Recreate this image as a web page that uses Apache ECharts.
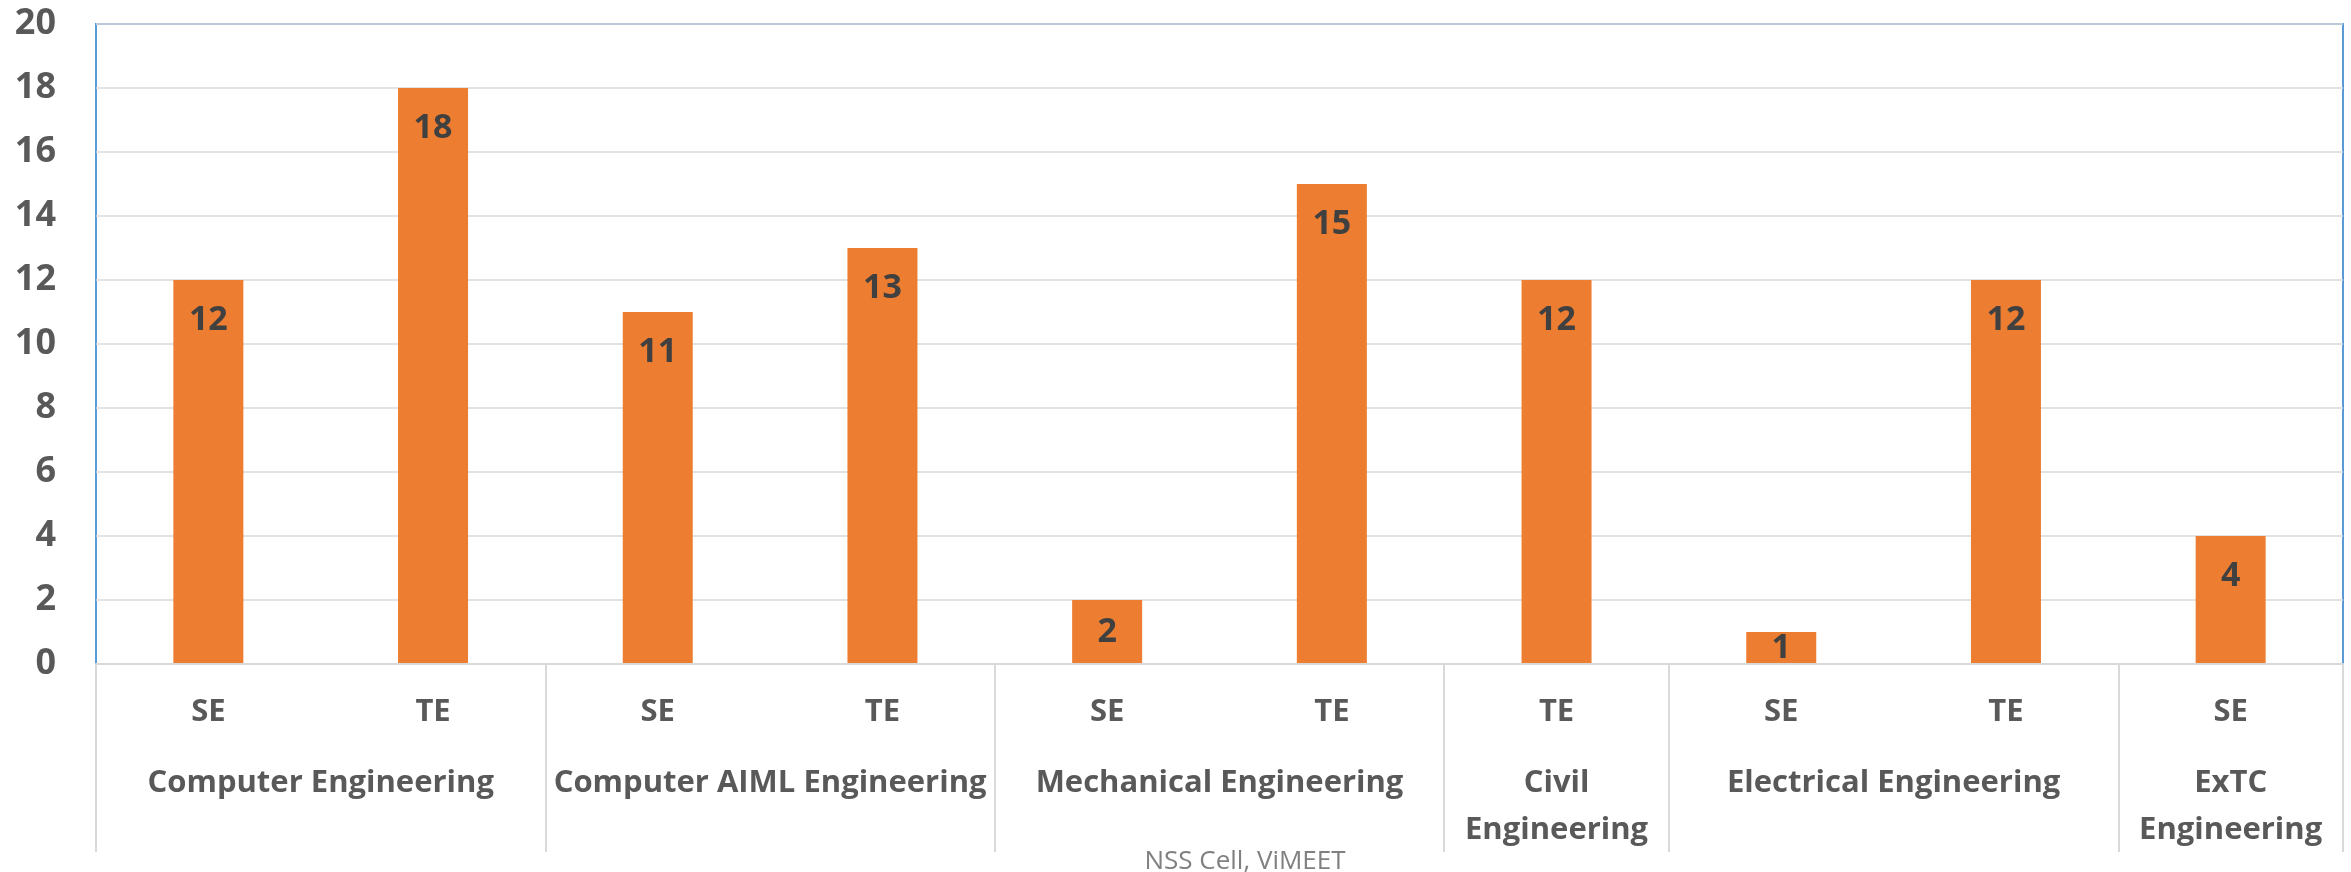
<!DOCTYPE html>
<html>
<head>
<meta charset="utf-8">
<script src="https://cdn.jsdelivr.net/npm/echarts@6/dist/echarts.min.js"></script>
<style>
  html, body { margin: 0; padding: 0; background: #fff; }
  #main { width: 2351px; height: 872px; }
</style>
</head>
<body>
<div id="main"></div>
<script>
// data
var years = ['SE', 'TE', 'SE', 'TE', 'SE', 'TE', 'TE', 'SE', 'TE', 'SE'];
var counts = [12, 18, 11, 13, 2, 15, 12, 1, 12, 4];
var departments = ['Computer Engineering', 'Computer AIML Engineering', 'Mechanical Engineering',
                   'Civil\nEngineering', 'Electrical Engineering', 'ExTC\nEngineering'];
var deptSizes = [2, 2, 2, 1, 2, 1];   // how many bars each department spans
var yTicks = [0, 2, 4, 6, 8, 10, 12, 14, 16, 18, 20];

// group boundaries and centres on a 0..10 value axis under the category axis
var bounds = [0], centres = [];
deptSizes.forEach(function (n, i) {
  var start = bounds[bounds.length - 1];
  centres.push(start + n / 2);
  bounds.push(start + n);
});

var font = '"Open Sans", "DejaVu Sans", sans-serif';

var barData = counts.map(function (v) {
  // small bars: keep the label inside the bar
  return v <= 2 ? { value: v, label: { position: 'inside' } } : v;
});

var myChart = echarts.init(document.getElementById('main'));
var option = {
  animation: false,
  title: {
    text: 'NSS Cell, ViMEET',
    left: 1240,
    top: 844,
    textAlign: 'center',
    textStyle: { fontFamily: font, fontSize: 26, fontWeight: 'normal', color: '#808080' }
  },
  grid: {
    left: 96, right: 8, top: 24, bottom: 208,
    show: true, borderColor: '#5B9BD5', borderWidth: 2
  },
  xAxis: [{
    type: 'category',
    data: years,
    axisLine: { show: true, lineStyle: { color: '#D9D9D9', width: 2 } },
    axisTick: { show: false },
    axisLabel: {
      fontFamily: font, fontSize: 31, fontWeight: 'bold', color: '#595959',
      margin: 30, lineHeight: 36
    },
    z: 5
  }, {
    type: 'value',
    min: 0,
    max: 10,
    position: 'bottom',
    axisLine: { show: false },
    splitLine: { show: false },
    axisTick: {
      show: true, customValues: bounds, length: 188,
      lineStyle: { color: '#D9D9D9', width: 2 }
    },
    axisLabel: {
      customValues: centres,
      fontFamily: font, fontSize: 31, fontWeight: 'bold', color: '#595959',
      margin: 96, lineHeight: 47, align: 'center',
      formatter: function (v) {
        var i = centres.indexOf(v);
        return i >= 0 ? departments[i] : '';
      }
    }
  }],
  yAxis: {
    type: 'value',
    min: yTicks[0],
    max: yTicks[yTicks.length - 1],
    interval: 2,
    axisLine: { show: false },
    axisTick: { show: false },
    splitLine: { lineStyle: { color: '#D9D9D9', width: 1.5 } },
    axisLabel: {
      fontFamily: font, fontSize: 36, fontWeight: 'bold', color: '#595959', margin: 40
    }
  },
  series: [{
    type: 'bar',
    data: barData,
    barWidth: 70,
    itemStyle: { color: '#ED7D31' },
    label: {
      show: true,
      position: 'insideTop',
      distance: 23,
      fontFamily: font, fontSize: 34, fontWeight: 'bold', color: '#404040'
    }
  }]
};
myChart.setOption(option);
</script>
</body>
</html>
